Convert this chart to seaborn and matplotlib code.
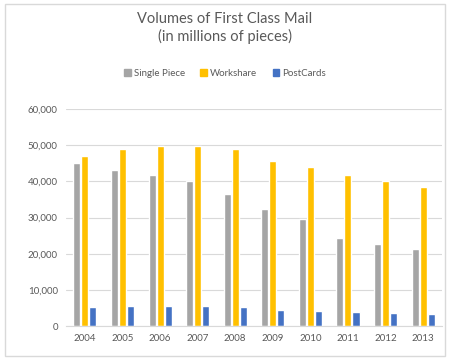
# Volumes of First Class Mail - grouped bar chart

import pandas as pd
import matplotlib.pyplot as plt
import seaborn as sns
from matplotlib.patches import Rectangle
from matplotlib.ticker import FuncFormatter

# -----------------------------------------------------------
# Data (millions of pieces)
# -----------------------------------------------------------
years = ["2004", "2005", "2006", "2007", "2008",
         "2009", "2010", "2011", "2012", "2013"]
single_piece = [45000, 43300, 41800, 40000, 36600, 32500, 29500, 24500, 22700, 21400]
workshare = [47100, 49000, 49800, 49900, 49000, 45700, 43900, 41700, 40000, 38600]
postcards = [5300, 5500, 5500, 5700, 5300, 4600, 4300, 3900, 3700, 3300]

series_names = ["Single Piece", "Workshare", "PostCards"]
colors = ["#A5A5A5", "#FFC000", "#4472C4"]

# long format table for seaborn
df = pd.DataFrame({
    "Year": years * 3,
    "Series": [s for s in series_names for _ in years],
    "Volume": single_piece + workshare + postcards,
})

# -----------------------------------------------------------
# Plot
# -----------------------------------------------------------
sns.set_style("white")
plt.rcParams["font.family"] = ["Lato", "DejaVu Sans"]

text_col = "#595959"

fig = plt.figure(figsize=(4.5, 3.6), dpi=100)
ax = fig.add_axes([0.147, 0.094, 0.835, 0.603])

sns.barplot(data=df, x="Year", y="Volume", hue="Series",
            hue_order=series_names, palette=colors, saturation=1,
            width=0.64, gap=0.12, ax=ax, legend=False)

ax.set_ylim(0, 60000)
ax.set_yticks(range(0, 60001, 10000))
ax.yaxis.set_major_formatter(FuncFormatter(lambda v, p: f"{int(v):,}"))
ax.grid(axis="y", color="#D9D9D9", linewidth=0.8)
ax.set_axisbelow(True)
ax.set_xlabel("")
ax.set_ylabel("")

for side in ["top", "right", "left"]:
    ax.spines[side].set_visible(False)
ax.spines["bottom"].set_color("#D9D9D9")

ax.tick_params(axis="both", length=0, labelsize=7, colors=text_col, pad=6)

# title
fig.text(0.5, 0.922, "Volumes of First Class Mail\n(in millions of pieces)",
         ha="center", va="center", fontsize=10.5, color=text_col,
         linespacing=1.3)

# legend with square markers
handles = [Rectangle((0, 0), 1, 1, color=c) for c in colors]
fig.legend(handles, series_names, loc="center", bbox_to_anchor=(0.5, 0.797),
           ncol=3, frameon=False, fontsize=7, labelcolor=text_col,
           handlelength=0.7, handleheight=0.7, handletextpad=0.3,
           columnspacing=1.6)

# light chart border
fig.patches.append(Rectangle((0.012, 0.012), 0.976, 0.976, transform=fig.transFigure,
                             fill=False, edgecolor="#D9D9D9", linewidth=1))

plt.savefig("out.png", dpi=100)
